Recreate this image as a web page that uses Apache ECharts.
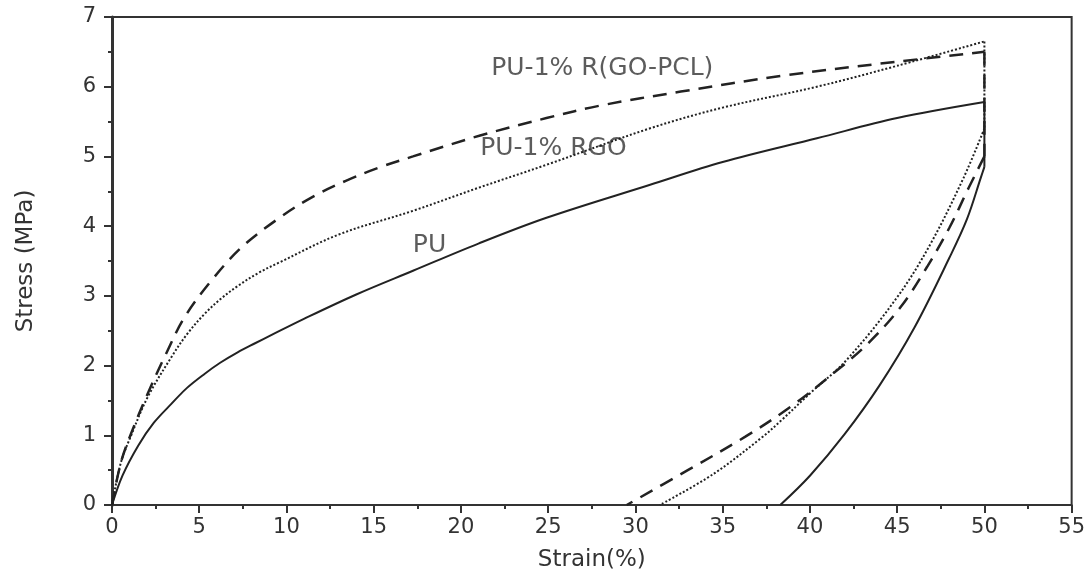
<html>
  <head>
    <meta charset="utf-8" />
    <script src="https://cdn.jsdelivr.net/npm/echarts@6.0.0/dist/echarts.min.js"></script>
    <style>
      body {
        margin: 0;
        background: #fff;
      }

      #main {
        width: 1088px;
        height: 577px;
      }
    </style>
  </head>
  <body>
    <div id="main"></div>
    <script>
      // strain (%), stress (MPa); loading up to 50 %, then unloading from the bottom of the drop
      const puLoad = [
        [0, 0], [0.6, 0.42], [1.5, 0.85], [2.4, 1.18], [3.4, 1.45], [4.3, 1.68],
        [5.3, 1.88], [6.2, 2.04], [7.2, 2.19], [8.2, 2.32], [9.15, 2.44],
        [11, 2.67], [14, 3.02], [17.25, 3.36], [21, 3.75], [24.9, 4.12],
        [30.8, 4.59], [35, 4.92], [40.4, 5.26], [45, 5.55], [50, 5.78]
      ];
      const puUnload = [
        [50, 4.85], [49.8, 4.7], [49, 4.1], [48, 3.55], [46, 2.55], [44, 1.72],
        [42, 1.02], [40, 0.42], [38.3, 0]
      ];
      const rgoLoad = [
        [0, 0], [0.5, 0.6], [1.1, 1.0], [2.05, 1.55], [3.4, 2.12], [4.3, 2.45],
        [5.3, 2.74], [6.2, 2.95], [7.2, 3.14], [8.4, 3.33], [9.6, 3.48],
        [13, 3.88], [17.25, 4.22], [21, 4.55], [24.9, 4.88], [30.8, 5.4],
        [35, 5.7], [40.4, 6.0], [45, 6.3], [50, 6.65]
      ];
      const rgoUnload = [
        [50, 5.4], [48.8, 4.69], [46.9, 3.74], [45, 2.98], [42.1, 2.08],
        [40, 1.6], [38.3, 1.2], [37.3, 0.98], [34.5, 0.45], [31.4, 0]
      ];
      const gopclLoad = [
        [0, 0], [0.5, 0.6], [1.1, 1.03], [2.05, 1.6], [3.1, 2.17], [4.15, 2.69],
        [5.7, 3.22], [7.4, 3.69], [9.6, 4.12], [11.5, 4.42], [13.4, 4.65],
        [15.3, 4.84], [17.25, 5.0], [21.1, 5.3], [24.9, 5.55], [28, 5.73],
        [32.6, 5.93], [38.5, 6.16], [44, 6.33], [50, 6.5]
      ];
      const gopclUnload = [
        [50, 5.0], [49.1, 4.55], [48, 3.98], [46.7, 3.41], [45.2, 2.84],
        [43.3, 2.31], [41.3, 1.88], [38.9, 1.41], [36.3, 0.98], [33, 0.5],
        [29.5, 0]
      ];

      const curveLabels = ['PU-1% R(GO-PCL)', 'PU-1% RGO', 'PU'];
      const curveLabelPos = [[28.1, 6.26], [25.3, 5.12], [18.2, 3.72]];

      const font = 'DejaVu Sans';
      const ink = '#222';
      const axisColor = '#333';

      const curves = [
        { name: 'PU', load: puLoad, unload: puUnload, style: { width: 2 } },
        { name: 'PU-1% RGO', load: rgoLoad, unload: rgoUnload, style: { width: 2, type: [2, 2] } },
        { name: 'PU-1% R(GO-PCL)', load: gopclLoad, unload: gopclUnload, style: { width: 2.5, type: [14, 9] } },
      ];

      // each curve: smooth loading, straight drop at 50 %, smooth unloading
      const series = [];
      curves.forEach((c) => {
        const lineStyle = Object.assign({ color: ink }, c.style);
        const drop = [c.load[c.load.length - 1], c.unload[0]];
        [c.load, drop, c.unload].forEach((data, k) => {
          series.push({
            name: c.name,
            type: 'line',
            data: data,
            smooth: k === 1 ? false : 0.35,
            showSymbol: false,
            lineStyle: lineStyle,
          });
        });
      });

      series.push({
        name: 'labels',
        type: 'scatter',
        symbolSize: 0,
        data: curveLabelPos.map((p, i) => [p[0], p[1], curveLabels[i]]),
        label: {
          show: true,
          position: 'inside',
          formatter: (p) => p.value[2],
          fontFamily: font,
          fontSize: 25,
          color: '#333',
        },
      });

      const chart = echarts.init(document.getElementById('main'));

      chart.setOption({
        animation: false,
        grid: {
          left: 112,
          right: 16,
          top: 17,
          bottom: 68,
          show: true,
          borderColor: axisColor,
          borderWidth: 2,
        },
        xAxis: {
          type: 'value',
          min: 0,
          max: 55,
          interval: 5,
          name: 'Strain(%)',
          nameLocation: 'middle',
          nameGap: 44,
          nameTextStyle: { fontFamily: font, fontSize: 23, color: axisColor },
          axisLine: { show: true, onZero: false, lineStyle: { color: axisColor, width: 2 } },
          axisTick: { show: true, length: 8, lineStyle: { color: axisColor, width: 2 } },
          minorTick: { show: true, splitNumber: 2, length: 4, lineStyle: { color: axisColor, width: 2 } },
          axisLabel: { margin: 12, fontFamily: font, fontSize: 21, color: axisColor },
          splitLine: { show: false },
        },
        yAxis: {
          type: 'value',
          min: 0,
          max: 7,
          interval: 1,
          name: 'Stress (MPa)',
          nameLocation: 'middle',
          nameGap: 74,
          nameTextStyle: { fontFamily: font, fontSize: 23, color: axisColor },
          axisLine: { show: true, onZero: false, lineStyle: { color: axisColor, width: 3 } },
          axisTick: { show: true, length: 8, lineStyle: { color: axisColor, width: 2 } },
          minorTick: { show: true, splitNumber: 2, length: 4, lineStyle: { color: axisColor, width: 2 } },
          axisLabel: { margin: 16, fontFamily: font, fontSize: 21, color: axisColor },
          splitLine: { show: false },
        },
        series: series,
      });
    </script>
  </body>
</html>
